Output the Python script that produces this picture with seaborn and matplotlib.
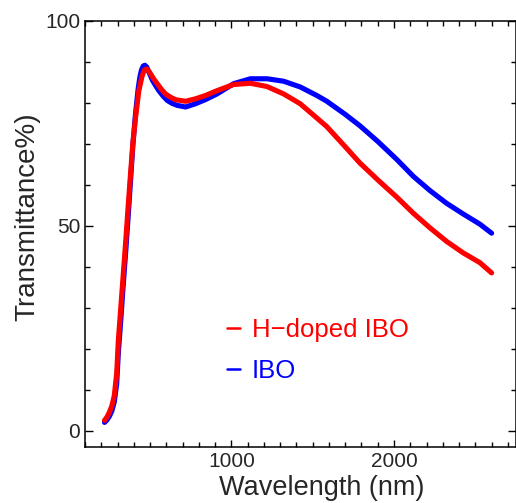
import matplotlib
matplotlib.use("Agg")
import matplotlib.pyplot as plt
import seaborn as sns
import pandas as pd
from matplotlib.ticker import MultipleLocator, FixedLocator
from matplotlib.lines import Line2D

# ---- data ----
wl_h = [220, 235, 250, 265, 280, 295, 305, 320, 335, 350, 365, 380, 395, 411, 431, 452,
        465, 477, 490, 503, 520, 544, 570, 595, 625, 656, 718, 779, 840, 912, 1014,
        1117, 1219, 1321, 1423, 1526, 1587, 1700, 1791, 1914, 2017, 2118, 2221, 2323,
        2425, 2528, 2600]
t_h = [2.5, 3.3, 4.5, 6.0, 8.5, 14, 22, 30, 38, 46, 54.5, 62.7, 70.5, 76.5, 83, 86.7,
       88.0, 88.3, 87.9, 87.1, 86.0, 84.7, 83.3, 82.2, 81.4, 80.8, 80.4, 81, 81.8, 83, 84.5,
       84.8, 84, 82.2, 79.8, 76.3, 74.2, 69.3, 65.3, 60.7, 57, 53.1, 49.5, 46.2,
       43.4, 41.0, 38.5]

wl_ibo = [220, 235, 250, 265, 280, 295, 305, 320, 335, 350, 365, 380, 395, 411, 427, 437,
          447, 458, 468, 479, 490, 502, 515, 535, 554, 580, 606, 635, 667, 718, 779, 840,
          912, 1014, 1117, 1219, 1321, 1423, 1526, 1587, 1700, 1791, 1900, 2017, 2118,
          2221, 2323, 2425, 2528, 2600]
t_ibo = [2, 2.6, 3.5, 4.8, 7, 11.5, 19, 27, 35.5, 43.5, 52, 61, 70, 77.5, 83.5, 86.2,
         88, 89, 89.2, 88.8, 87.8, 86.7, 85.5, 84.2, 83, 81.7, 80.6, 79.9, 79.4, 79, 79.8,
         80.8, 82.2, 84.7, 85.9, 85.9, 85.3, 83.9, 81.8, 80.4, 77.2, 74.4, 70.6, 66.2,
         62.1, 58.6, 55.5, 52.9, 50.4, 48.2]

labels = ["H\u2212doped IBO", "IBO"]
colors = ["#ff0000", "#0000ff"]
x_major = [1000, 2000]
y_major = [0, 50, 100]

sns.set_style("white")
plt.rcParams["font.family"] = ["Liberation Sans", "DejaVu Sans"]

df_h = pd.DataFrame({"Wavelength": wl_h, "T": t_h})
df_i = pd.DataFrame({"Wavelength": wl_ibo, "T": t_ibo})

fig = plt.figure(figsize=(5.16, 5.03), dpi=100)
ax = fig.add_axes([85 / 516, 1 - 447 / 503, 431 / 516, 426 / 503])

sns.lineplot(data=df_i, x="Wavelength", y="T", color=colors[1], lw=3.7, ax=ax,
             estimator=None, sort=False)
sns.lineplot(data=df_h, x="Wavelength", y="T", color=colors[0], lw=3.7, ax=ax,
             estimator=None, sort=False)
for ln in ax.lines:
    ln.set_solid_joinstyle("round")
    ln.set_solid_capstyle("round")

ax.set_xlim(100, 2750)
ax.set_ylim(-4, 100)

ax.xaxis.set_major_locator(FixedLocator(x_major))
ax.xaxis.set_minor_locator(MultipleLocator(100))
ax.yaxis.set_major_locator(FixedLocator(y_major))
ax.yaxis.set_minor_locator(MultipleLocator(10))

ax.tick_params(which="both", direction="in", top=True, right=True,
               bottom=True, left=True, width=1.0, color="black",
               labelsize=15, pad=3.5)
ax.tick_params(axis="y", which="major", length=6)
ax.tick_params(axis="y", which="minor", length=3.5)
ax.tick_params(axis="x", which="major", length=5)
ax.tick_params(axis="x", which="minor", length=3.5)

for s in ax.spines.values():
    s.set_linewidth(1.1)
    s.set_color("black")

ax.set_xlabel("Wavelength (nm)", fontsize=19.5)
ax.set_ylabel("Transmittance%)", fontsize=20)
ax.xaxis.set_label_coords(0.548, -0.066)
ax.yaxis.set_label_coords(-0.104, 0.54)

handles = [Line2D([], [], color=c, lw=1.8) for c in colors]
leg = ax.legend(handles, labels, loc="upper left", bbox_to_anchor=(0.33, 0.303),
                frameon=False, fontsize=18.5, handlelength=0.5, handletextpad=0.45,
                labelspacing=0.68, borderpad=0, borderaxespad=0,
                labelcolor="linecolor")

fig.savefig("out.png", dpi=100)
